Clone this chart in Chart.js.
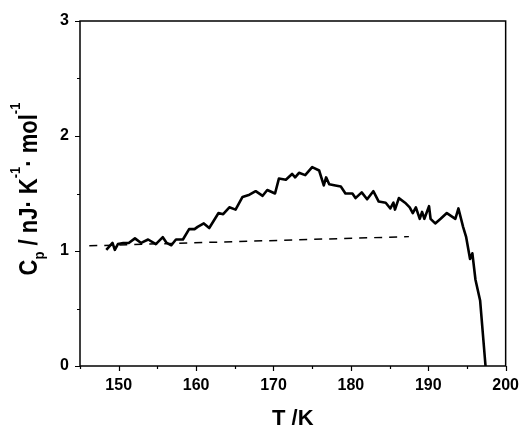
<!DOCTYPE html>
<html>
<head>
<meta charset="utf-8">
<script src="https://cdn.jsdelivr.net/npm/chart.js@4.4.1/dist/chart.umd.min.js"></script>
<style>
  html, body { margin: 0; background: #fff; }
  #wrap { width: 524px; height: 428px; position: relative; }
</style>
</head>
<body>
<div id="wrap"><canvas id="cpChart"></canvas></div>
<script>
const temps = [148.4, 149.2, 149.5, 149.9, 150.6, 151.3, 152.1, 152.9, 153.8, 154.8,
  155.7, 156.2, 156.8, 157.4, 158.3, 159.1, 159.8, 160.2, 161.0, 161.7,
  162.9, 163.5, 164.3, 165.1, 166.0, 166.9, 167.7, 168.6, 169.2, 170.2,
  170.7, 171.6, 172.4, 172.8, 173.3, 174.1, 175.0, 175.9, 176.5, 176.8,
  177.2, 178.0, 178.7, 179.3, 180.2, 180.6, 181.4, 182.1, 182.9, 183.6,
  184.5, 185.1, 185.5, 185.7, 186.2, 187.0, 187.6, 188.0, 188.4, 188.9,
  189.2, 189.5, 190.1, 190.3, 190.9, 191.6, 192.4, 193.5, 193.9, 194.5,
  194.9, 195.4, 195.7, 196.1, 196.7, 197.4];
const cp = [1.01, 1.07, 1.01, 1.06, 1.07, 1.07, 1.11, 1.07, 1.10, 1.06,
  1.12, 1.07, 1.05, 1.10, 1.10, 1.19, 1.19, 1.21, 1.24, 1.20,
  1.33, 1.32, 1.38, 1.36, 1.47, 1.49, 1.52, 1.48, 1.53, 1.50,
  1.63, 1.62, 1.67, 1.64, 1.68, 1.66, 1.73, 1.70, 1.57, 1.64,
  1.58, 1.57, 1.56, 1.50, 1.50, 1.46, 1.51, 1.45, 1.52, 1.43,
  1.42, 1.37, 1.42, 1.36, 1.46, 1.42, 1.38, 1.33, 1.38, 1.28,
  1.34, 1.28, 1.39, 1.28, 1.24, 1.28, 1.33, 1.28, 1.37, 1.21,
  1.12, 0.93, 0.98, 0.75, 0.57, 0.0];

// dashed baseline
const baseT = [146.2, 187.5];
const baseCp = [1.045, 1.125];

// axes
const xMin = 145, xMax = 200, xStep = 5;
const yMin = 0, yMax = 3, yStep = 0.5;

const toPts = (xs, ys) => xs.map((x, i) => ({ x: x, y: ys[i] }));

const FONT = '"Liberation Sans", Arial, sans-serif';

// box, tick marks and the axis titles (sub/superscripts need manual drawing)
const framePlugin = {
  id: 'frame',
  afterDraw(chart) {
    const c = chart.ctx, a = chart.chartArea;
    const xs = chart.scales.x, ys = chart.scales.y;
    c.save();
    c.strokeStyle = '#000';
    c.lineWidth = 1.5;
    c.strokeRect(a.left, a.top, a.right - a.left, a.bottom - a.top);

    c.lineWidth = 1.2;
    c.beginPath();
    xs.ticks.forEach(t => {
      const px = Math.round(xs.getPixelForValue(t.value)) + 0.5;
      const len = t.value % 10 === 0 ? 5 : 3;
      c.moveTo(px, a.bottom);
      c.lineTo(px, a.bottom + len);
    });
    ys.ticks.forEach(t => {
      const py = Math.round(ys.getPixelForValue(t.value)) + 0.5;
      const len = Number.isInteger(t.value) ? 5 : 3;
      c.moveTo(a.left, py);
      c.lineTo(a.left - len, py);
    });
    c.stroke();

    c.fillStyle = '#000';
    c.textBaseline = 'alphabetic';
    c.font = 'bold 22px ' + FONT;
    c.textAlign = 'center';
    c.fillText('T /K', (a.left + a.right) / 2, 425);

    // y title: C_p / nJ· K^-1 · mol^-1
    const parts = [
      { t: 'C', s: 22, dy: 0 },
      { t: 'p', s: 13, dy: 6 },
      { t: ' / nJ\u00b7 K', s: 22, dy: 0 },
      { t: '-1', s: 13, dy: -14.5 },
      { t: '\u00b7 mol', s: 22, dy: 0 },
      { t: '-1', s: 13, dy: -14.5 }
    ];
    c.textAlign = 'left';
    let w = 0;
    parts.forEach(p => { c.font = 'bold ' + p.s + 'px ' + FONT; p.w = c.measureText(p.t).width; w += p.w; });
    c.translate(37, 189);
    c.rotate(-Math.PI / 2);
    c.scale(1, 1.18);
    let x = -w / 2;
    parts.forEach(p => {
      c.font = 'bold ' + p.s + 'px ' + FONT;
      c.fillText(p.t, x, p.dy);
      x += p.w;
    });
    c.restore();
  }
};

new Chart(document.getElementById('cpChart'), {
  type: 'scatter',
  data: {
    datasets: [
      {
        data: toPts(temps, cp),
        showLine: true,
        borderColor: '#000',
        borderWidth: 2.6,
        pointRadius: 0,
        tension: 0,
        borderJoinStyle: 'round'
      },
      {
        data: toPts(baseT, baseCp),
        showLine: true,
        borderColor: '#000',
        borderWidth: 1.5,
        borderDash: [8, 7],
        pointRadius: 0
      }
    ]
  },
  options: {
    responsive: true,
    maintainAspectRatio: false,
    animation: false,
    layout: { padding: { top: 21, right: 17, left: 0, bottom: 0 } },
    plugins: { legend: { display: false }, tooltip: { enabled: false } },
    scales: {
      x: {
        type: 'linear',
        min: xMin, max: xMax,
        afterFit(s) { s.height = 62; },
        grid: { display: false, drawTicks: true, tickLength: 5 },
        border: { display: false },
        ticks: {
          stepSize: xStep,
          autoSkip: false,
          maxRotation: 0,
          padding: 5,
          color: '#000',
          font: { family: FONT, size: 16, weight: 'bold' },
          callback: v => (v % 10 === 0 ? v : '')
        }
      },
      y: {
        min: yMin, max: yMax,
        afterFit(s) { s.width = 80; },
        grid: { display: false, drawTicks: true, tickLength: 5 },
        border: { display: false },
        ticks: {
          stepSize: yStep,
          autoSkip: false,
          padding: 6,
          color: '#000',
          font: { family: FONT, size: 16, weight: 'bold' },
          callback: v => (Number.isInteger(v) ? v : '')
        }
      }
    }
  },
  plugins: [framePlugin]
});
</script>
</body>
</html>
